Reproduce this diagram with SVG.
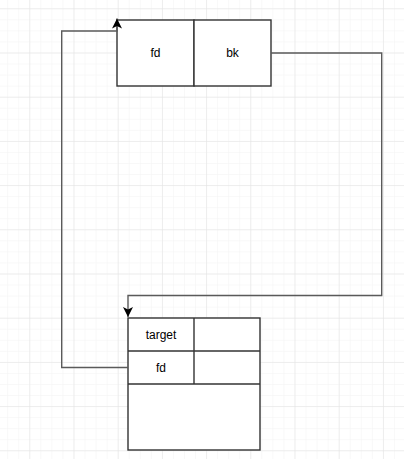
<svg xmlns="http://www.w3.org/2000/svg" width="404" height="459" viewBox="0 0 404 459">
<style>
.box{fill:#fff;stroke:#333;stroke-width:1.4}
.ln{fill:none;stroke:#5a5a5a;stroke-width:1.4}
.t{font-family:"Liberation Sans",Arial,sans-serif;font-size:12px;fill:#000;text-anchor:middle;dominant-baseline:central}
</style>
<defs>
<pattern id="minor" width="11.05" height="11.05" patternUnits="userSpaceOnUse" x="-14.9" y="8.3">
<path d="M0 0H11.05M0 0V11.05" fill="none" stroke="#f2f2f2" stroke-width="1"/>
</pattern>
<pattern id="major" width="44.2" height="44.2" patternUnits="userSpaceOnUse" x="-14.9" y="8.3">
<path d="M0 0H44.2M0 0V44.2" fill="none" stroke="#e2e2e2" stroke-width="1"/>
</pattern>
<marker id="arr" markerWidth="12" markerHeight="12" refX="10" refY="5" orient="auto" markerUnits="userSpaceOnUse">
<path d="M0 0L10 5L0 10L2.4 5Z" fill="#000"/>
</marker>
</defs>
<rect width="404" height="459" fill="#fff"/>
<rect width="404" height="459" fill="url(#minor)"/>
<rect width="404" height="459" fill="url(#major)"/>
<g id="node-top">
<rect class="box" x="117" y="20" width="77" height="66"/>
<rect class="box" x="194" y="20" width="77" height="66"/>
<text class="t" x="155.5" y="53">fd</text>
<text class="t" x="232.5" y="53">bk</text>
</g>
<g id="node-bottom">
<rect class="box" x="128" y="318" width="132" height="132"/>
<line class="box" x1="128" y1="351" x2="260" y2="351"/>
<line class="box" x1="128" y1="384" x2="260" y2="384"/>
<line class="box" x1="194" y1="318" x2="194" y2="384"/>
<text class="t" x="161" y="334.5">target</text>
<text class="t" x="161" y="367.5">fd</text>
</g>
<g id="connectors">
<path class="ln" d="M271 53H381.7V295.5H128V317" marker-end="url(#arr)"/>
<path class="ln" d="M128 367.5H61.7V31H117V18.5" marker-end="url(#arr)"/>
</g>
</svg>
